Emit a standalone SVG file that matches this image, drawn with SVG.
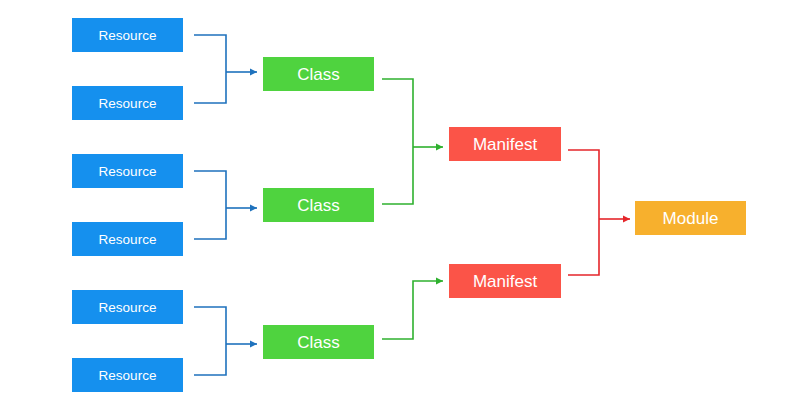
<svg xmlns="http://www.w3.org/2000/svg" width="811" height="417" viewBox="0 0 811 417">
<style>
.res rect{fill:#1590ee}
.cls rect{fill:#4fd33f}
.man rect{fill:#fb5448}
.mod rect{fill:#f7b02d}
text{fill:#fff;font-family:"Liberation Sans",Arial,sans-serif;text-anchor:middle;dominant-baseline:central}
.res text{font-size:13.5px}
.big{font-size:17px}
.cb{fill:none;stroke:#1f72bd;stroke-width:1.6}
.cg{fill:none;stroke:#2fb12f;stroke-width:1.6}
.cr{fill:none;stroke:#e5262b;stroke-width:1.6}
</style>
<defs>
<marker id="ab" markerWidth="8" markerHeight="8" refX="7" refY="4" orient="auto" markerUnits="userSpaceOnUse"><path d="M0,0.5 L7,4 L0,7.5 Z" fill="#1f72bd"/></marker>
<marker id="ag" markerWidth="8" markerHeight="8" refX="7" refY="4" orient="auto" markerUnits="userSpaceOnUse"><path d="M0,0.5 L7,4 L0,7.5 Z" fill="#2fb12f"/></marker>
<marker id="ar" markerWidth="8" markerHeight="8" refX="7" refY="4" orient="auto" markerUnits="userSpaceOnUse"><path d="M0,0.5 L7,4 L0,7.5 Z" fill="#e5262b"/></marker>
</defs>
<rect width="811" height="417" fill="#fff"/>
<g id="connectors">
<path class="cb" d="M194,35 H226 V103 H194"/>
<path class="cb" d="M226,72 H257" marker-end="url(#ab)"/>
<path class="cb" d="M194,171 H226 V239 H194"/>
<path class="cb" d="M226,208 H257" marker-end="url(#ab)"/>
<path class="cb" d="M194,307 H226 V375 H194"/>
<path class="cb" d="M226,344 H257" marker-end="url(#ab)"/>
<path class="cg" d="M382,79 H413 V204 H382"/>
<path class="cg" d="M413,147 H443" marker-end="url(#ag)"/>
<path class="cg" d="M382,339 H413 V281 H443" marker-end="url(#ag)"/>
<path class="cr" d="M568,150 H599 V275 H568"/>
<path class="cr" d="M599,219 H630" marker-end="url(#ar)"/>
</g>
<g id="res1" class="res"><rect x="72" y="18" width="111" height="34"/><text x="127.5" y="35">Resource</text></g>
<g id="res2" class="res"><rect x="72" y="86" width="111" height="34"/><text x="127.5" y="103">Resource</text></g>
<g id="res3" class="res"><rect x="72" y="154" width="111" height="34"/><text x="127.5" y="171">Resource</text></g>
<g id="res4" class="res"><rect x="72" y="222" width="111" height="34"/><text x="127.5" y="239">Resource</text></g>
<g id="res5" class="res"><rect x="72" y="290" width="111" height="34"/><text x="127.5" y="307">Resource</text></g>
<g id="res6" class="res"><rect x="72" y="358" width="111" height="34"/><text x="127.5" y="375">Resource</text></g>
<g id="class1" class="cls"><rect x="263" y="57" width="111" height="34"/><text class="big" x="318.5" y="74">Class</text></g>
<g id="class2" class="cls"><rect x="263" y="188" width="111" height="34"/><text class="big" x="318.5" y="205">Class</text></g>
<g id="class3" class="cls"><rect x="263" y="325" width="111" height="34"/><text class="big" x="318.5" y="342">Class</text></g>
<g id="manifest1" class="man"><rect x="449" y="127" width="112" height="34"/><text class="big" x="505" y="144">Manifest</text></g>
<g id="manifest2" class="man"><rect x="449" y="264" width="112" height="34"/><text class="big" x="505" y="281">Manifest</text></g>
<g id="module" class="mod"><rect x="635" y="201" width="111" height="34"/><text class="big" x="690.5" y="218">Module</text></g>
</svg>
